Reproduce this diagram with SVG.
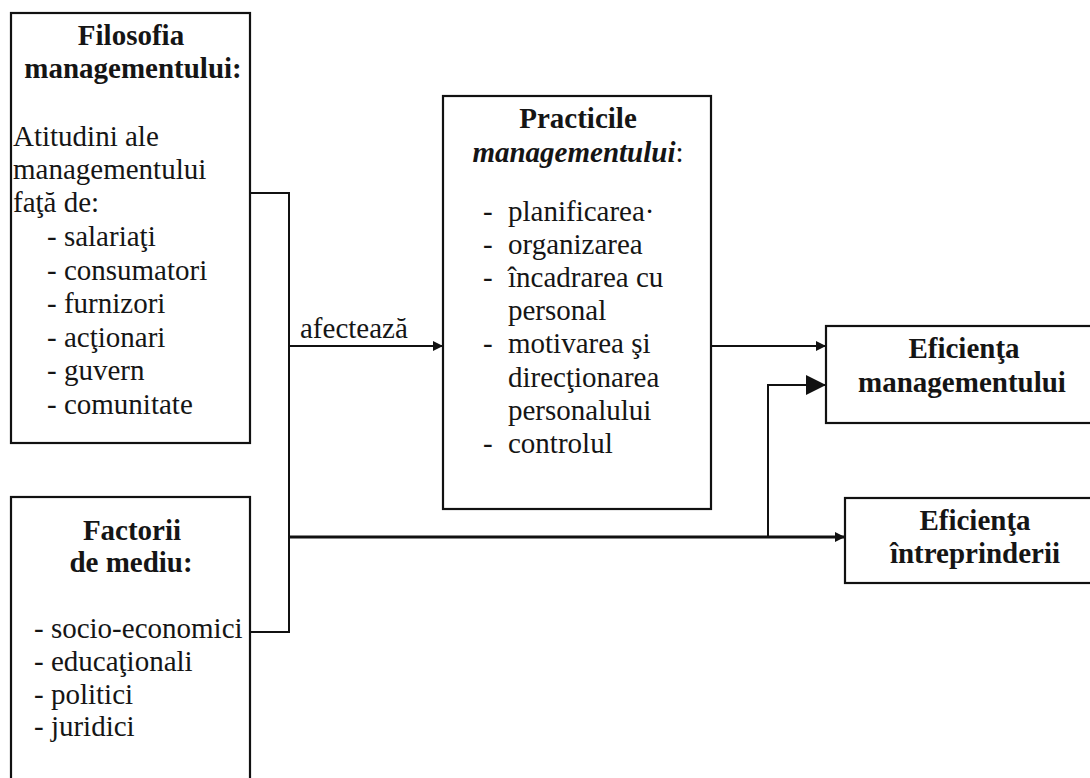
<svg xmlns="http://www.w3.org/2000/svg" width="1090" height="778" viewBox="0 0 1090 778">
  <style>
    .box { fill: #ffffff; stroke: #111111; stroke-width: 2.2; }
    .wire { fill: none; stroke: #111111; stroke-width: 2; }
    .thick { stroke-width: 2.8; }
    text { font-family: 'Liberation Serif', 'DejaVu Serif', serif; font-size: 29px; font-weight: normal; fill: #151515; }
    .b { font-weight: bold; }
    .c { text-anchor: middle; }
  </style>
  <defs>
    <marker id="arrow" viewBox="0 0 10 10" refX="10" refY="5" markerWidth="11" markerHeight="10" markerUnits="userSpaceOnUse" orient="auto">
      <path d="M0,0 L10,5 L0,10 Z" fill="#111111"/>
    </marker>
    <marker id="arrowBig" viewBox="0 0 10 10" refX="10" refY="5" markerWidth="20" markerHeight="26" markerUnits="userSpaceOnUse" orient="auto">
      <path d="M0,0 L10,5 L0,10 Z" fill="#111111"/>
    </marker>
  </defs>

  <rect width="1090" height="778" fill="#ffffff"/>

  <g id="connectors">
    <!-- bracket joining the two left boxes -->
    <path class="wire" d="M250,193 H289 V632 H250"/>
    <!-- afectează -->
    <path class="wire" d="M289,346 H443" marker-end="url(#arrow)"/>
    <text x="300" y="338">afectează</text>
    <!-- practices to management efficiency -->
    <path class="wire" d="M711,346 H826" marker-end="url(#arrow)"/>
    <!-- main line to enterprise efficiency -->
    <path class="wire thick" d="M289,537 H845" marker-end="url(#arrow)"/>
    <!-- branch up to management efficiency -->
    <path class="wire" d="M768,537 V385 H826" marker-end="url(#arrowBig)"/>
  </g>

  <g id="filosofia">
    <rect class="box" x="11" y="13" width="239" height="430"/>
    <text class="b c" x="131" y="45">Filosofia</text>
    <text class="b c" x="133" y="78">managementului:</text>
    <text x="13" y="146">Atitudini ale</text>
    <text x="13" y="179">managementului</text>
    <text x="13" y="212">faţă de:</text>
    <text x="47" y="246">- salariaţi</text>
    <text x="47" y="280">- consumatori</text>
    <text x="47" y="313">- furnizori</text>
    <text x="47" y="347">- acţionari</text>
    <text x="47" y="380">- guvern</text>
    <text x="47" y="414">- comunitate</text>
  </g>

  <g id="factorii">
    <rect class="box" x="11" y="497" width="239" height="300"/>
    <text class="b c" x="132" y="540">Factorii</text>
    <text class="b c" x="131" y="572">de mediu:</text>
    <text x="34" y="638">- socio-economici</text>
    <text x="34" y="671">- educaţionali</text>
    <text x="34" y="704">- politici</text>
    <text x="34" y="736">- juridici</text>
  </g>

  <g id="practicile">
    <rect class="box" x="443" y="96" width="268" height="413"/>
    <text class="b c" x="578" y="128">Practicile</text>
    <text class="c" x="578" y="162"><tspan font-weight="bold" font-style="italic">managementului</tspan>:</text>
    <text x="483" y="221">-</text><text x="508" y="221">planificarea·</text>
    <text x="483" y="254">-</text><text x="508" y="254">organizarea</text>
    <text x="483" y="287">-</text><text x="508" y="287">încadrarea cu</text>
    <text x="508" y="320">personal</text>
    <text x="483" y="353">-</text><text x="508" y="353">motivarea şi</text>
    <text x="508" y="387">direcţionarea</text>
    <text x="508" y="420">personalului</text>
    <text x="483" y="453">-</text><text x="508" y="453">controlul</text>
  </g>

  <g id="eficienta-management">
    <rect class="box" x="826" y="326" width="280" height="97"/>
    <text class="b c" x="964" y="358">Eficienţa</text>
    <text class="b c" x="962" y="392">managementului</text>
  </g>

  <g id="eficienta-intreprindere">
    <rect class="box" x="845" y="498" width="260" height="85"/>
    <text class="b c" x="975" y="530">Eficienţa</text>
    <text class="b c" x="975" y="563">întreprinderii</text>
  </g>
</svg>
